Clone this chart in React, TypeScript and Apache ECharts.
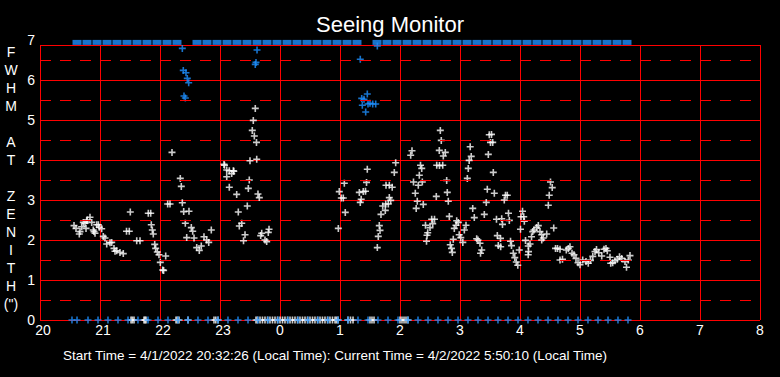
import React, { useEffect, useRef } from 'react';
import * as echarts from 'echarts';

const chartTitle = 'Seeing Monitor';
const yAxisName = 'F\nW\nH\nM\n\nA\nT\n\nZ\nE\nN\nI\nT\nH\n(")';
const footerText = 'Start Time = 4/1/2022 20:32:26 (Local Time): Current Time = 4/2/2022 5:50:10 (Local Time)';
const xTickLabels = ['20', '21', '22', '23', '0', '1', '2', '3', '4', '5', '6', '7', '8'];
const yTickLabels = ['0', '1', '2', '3', '4', '5', '6', '7'];
const dashedLevels = [0.5, 1.5, 2.5, 3.5, 4.5, 5.5, 6.5];

// White series: FWHM at zenith (hour of night, arcsec)
const whitePoints: [number, number][] = [
  [20.567, 2.36], [20.6, 2.29], [20.655, 2.15], [20.667, 2.21], [20.695, 2.33], [20.722, 2.44], [20.75, 2.42],
  [20.767, 2.29], [20.778, 2.48], [20.788, 2.5], [20.833, 2.57], [20.862, 2.44], [20.888, 2.25], [20.9, 2.21],
  [20.917, 2.17], [20.945, 2.38], [20.972, 2.38], [20.988, 2.32], [21.028, 2.28], [21.055, 2.09], [21.083, 2.05],
  [21.112, 1.9], [21.167, 1.93], [21.195, 1.94], [21.233, 1.79], [21.25, 1.72], [21.278, 1.73], [21.333, 1.69],
  [21.388, 1.66], [21.442, 2.22], [21.488, 2.22], [21.505, 2.7], [21.612, 1.98], [21.667, 1.98], [21.805, 2.67],
  [21.845, 2.67], [21.855, 2.38], [21.872, 2.25], [21.888, 2.15], [21.912, 1.89], [21.928, 1.79], [21.955, 1.7],
  [21.983, 1.63], [22.005, 1.44], [22.045, 1.25], [22.06, 1.24], [22.095, 1.6], [22.128, 2.9], [22.167, 2.9],
  [22.2, 4.19], [22.338, 3.54], [22.355, 3.34], [22.372, 2.93], [22.395, 2.71], [22.483, 2.72], [22.422, 2.42],
  [22.522, 2.31], [22.545, 2.22], [22.445, 2.06], [22.567, 2.05], [22.612, 1.81], [22.655, 1.74], [22.688, 1.85],
  [22.733, 2.08], [22.778, 2.0], [22.812, 1.94], [22.855, 2.25],
  [23.067, 3.89], [23.075, 3.87], [23.112, 3.75], [23.155, 3.73], [23.222, 3.73], [23.23, 3.72], [23.195, 3.66],
  [23.112, 3.58], [23.5, 3.98], [23.612, 4.02], [23.538, 4.74], [23.572, 4.6], [23.608, 4.44], [23.588, 5.29],
  [23.555, 4.99], [23.155, 3.32], [23.488, 3.5], [23.472, 3.29], [23.278, 3.14], [23.633, 3.15], [23.655, 3.06],
  [23.455, 2.85], [23.305, 2.7], [23.362, 2.42], [23.322, 2.35], [23.417, 2.13], [23.392, 1.98], [23.695, 2.17],
  [23.678, 2.11], [23.817, 2.27], [23.805, 2.19], [23.75, 2.0], [23.778, 1.96],
  [24.972, 2.29], [25.072, 3.42], [24.988, 3.21], [25.022, 3.05], [25.055, 3.05], [25.088, 2.69], [25.322, 3.19],
  [25.388, 3.21], [25.425, 3.22], [25.353, 3.02], [25.338, 2.94], [25.442, 3.44], [25.455, 3.77], [25.622, 1.81],
  [25.638, 2.09], [25.667, 2.24], [25.655, 2.36], [25.683, 2.64], [25.712, 2.85], [25.762, 2.9], [25.805, 2.9],
  [25.755, 2.74], [25.822, 3.06], [25.845, 2.99], [25.767, 3.37], [25.822, 3.37], [25.87, 3.32], [25.905, 3.69],
  [25.928, 3.93],
  [26.178, 4.12], [26.2, 4.23], [26.342, 3.87], [26.362, 3.79], [26.322, 3.62], [26.225, 3.45], [26.305, 3.37],
  [26.372, 3.45], [26.255, 3.17], [26.288, 2.97], [26.388, 2.89], [26.27, 2.79], [26.672, 4.74], [26.688, 4.49],
  [26.655, 4.24], [26.755, 4.19], [26.722, 4.1], [26.612, 3.87], [26.658, 3.86], [26.712, 3.87], [26.778, 3.49],
  [26.605, 3.09], [26.788, 3.19], [26.805, 2.97], [26.822, 2.59], [26.528, 2.52], [26.575, 2.52], [26.545, 2.41],
  [26.5, 2.31], [26.425, 2.37], [26.462, 2.18], [26.45, 2.12], [26.442, 1.97], [26.945, 2.48], [26.972, 2.44],
  [26.905, 2.29], [26.933, 2.37], [27.1, 2.37], [27.072, 2.25], [26.987, 2.13], [27.013, 2.06], [27.047, 1.94],
  [26.888, 2.02], [26.838, 1.88], [26.858, 1.79], [26.872, 1.69], [27.17, 4.33], [27.187, 4.09], [27.153, 3.99],
  [27.138, 3.79], [27.122, 3.54], [27.212, 2.79], [27.238, 2.56], [27.278, 2.03], [27.3, 2.0], [27.333, 1.92],
  [27.362, 1.75], [27.342, 1.67],
  [27.405, 2.64], [27.438, 2.94], [27.455, 3.27], [27.572, 3.17], [27.555, 3.69], [27.472, 4.14], [27.488, 4.63],
  [27.525, 4.64], [27.508, 4.44], [27.545, 4.44], [27.608, 2.52], [27.695, 2.53], [27.708, 2.39], [27.808, 2.67],
  [27.822, 2.49], [27.758, 3.12], [27.788, 3.12], [27.738, 3.0], [27.622, 2.11], [27.675, 2.04], [27.638, 1.86],
  [27.678, 1.83], [27.842, 1.97], [27.858, 1.86], [27.888, 1.67], [27.913, 1.56], [27.938, 1.45], [27.963, 1.37],
  [27.988, 1.75], [28.008, 2.27], [28.042, 2.72], [28.017, 2.58], [28.062, 2.58], [28.072, 2.47], [28.092, 1.99],
  [28.138, 1.85], [28.167, 1.9], [28.142, 1.71], [28.137, 1.63], [28.192, 2.08], [28.212, 2.21], [28.233, 2.25],
  [28.278, 2.31], [28.305, 2.36], [28.333, 2.21], [28.362, 2.13], [28.388, 2.05], [28.445, 2.15], [28.362, 2.0],
  [28.508, 3.45], [28.537, 3.31], [28.487, 3.12], [28.472, 2.87], [28.562, 2.3], [28.592, 1.79], [28.625, 1.79],
  [28.667, 1.77], [28.667, 1.5], [28.708, 1.52], [28.772, 1.75], [28.805, 1.79], [28.833, 1.83],
  [28.867, 1.67], [28.9, 1.63], [28.933, 1.54], [28.967, 1.43], [29.0, 1.38], [29.045, 1.5], [29.1, 1.46],
  [29.138, 1.42], [29.175, 1.49], [29.213, 1.59], [29.25, 1.71], [29.275, 1.76], [29.313, 1.68], [29.362, 1.6],
  [29.4, 1.77], [29.433, 1.79], [29.455, 1.73], [29.5, 1.57], [29.512, 1.42], [29.545, 1.43], [29.583, 1.48],
  [29.622, 1.52], [29.658, 1.58], [29.695, 1.54], [29.75, 1.46], [29.775, 1.32], [29.805, 1.5], [29.833, 1.61],
];

// White series readings that returned 0
const whiteZeroHours = [
  21.517, 21.54, 21.567, 21.733, 21.75, 21.767, 22.267, 22.29, 22.317, 22.467, 22.9, 22.93, 22.967,
  23.6, 23.625, 23.667, 23.708, 23.75, 23.792, 23.833, 23.875, 23.917, 23.958, 24.0, 24.042, 24.083, 24.125,
  24.167, 24.208, 24.25, 24.292, 24.333, 24.375, 24.417, 24.458, 24.5, 24.542, 24.583, 24.625, 24.667, 24.708,
  24.75, 24.792, 24.833, 24.875, 24.917, 24.94, 24.967, 25.133, 25.175, 25.217, 25.5, 25.533, 25.567,
  26.0, 26.033, 26.067, 26.1, 26.133,
];

// Blue series: in-range readings
const bluePoints: [number, number][] = [
  [22.372, 6.79], [22.388, 6.24], [22.433, 6.18], [22.455, 6.04], [22.478, 5.93], [22.4, 5.6], [22.422, 5.55],
  [23.617, 6.75], [23.6, 6.44], [23.588, 6.39], [25.338, 6.52], [25.622, 6.85], [25.455, 5.65], [25.362, 5.54],
  [25.4, 5.52], [25.372, 5.37], [25.5, 5.42], [25.545, 5.4], [25.595, 5.4], [25.467, 5.4], [25.428, 5.2],
];

// Blue series: readings above the plotted range (shown pinned at the top)
const blueTopHours = [
  20.617, 20.783, 20.95, 21.117, 21.283, 21.45, 21.617, 21.783, 21.95, 22.117, 22.283,
  22.617, 22.783, 22.95, 23.117, 23.283, 23.45, 23.617, 23.783, 23.95, 24.117, 24.283, 24.45, 24.617, 24.783,
  24.95, 25.117, 25.283,
  25.617, 25.783, 25.95, 26.117, 26.283, 26.45, 26.617, 26.783, 26.95, 27.117, 27.283, 27.45, 27.617, 27.783,
  27.95, 28.117, 28.283, 28.45, 28.617, 28.783, 28.95, 29.117, 29.283, 29.45, 29.617, 29.783,
];
const blueTopValue = 6.94;

// Blue series readings that returned 0
const blueZeroHours = [
  20.533, 20.617, 20.8, 20.967, 21.133, 21.3, 21.467, 21.633, 21.8, 21.967, 22.133, 22.3, 22.467, 22.633, 22.8,
  22.967, 23.133, 23.3, 23.467, 23.633, 23.8, 23.967, 24.133, 24.3, 24.467, 24.633, 24.8, 24.967, 25.133, 25.3,
  25.467, 25.633, 25.8, 25.967, 26.133, 26.3, 26.467, 26.633, 26.8, 26.967, 27.133, 27.3, 27.467, 27.633, 27.8,
  27.967, 28.133, 28.3, 28.467, 28.633, 28.8, 28.967, 29.133, 29.3, 29.467, 29.633, 29.8,
];

const FONT = '"Liberation Sans", Arial, sans-serif';
const PLUS = 'path://M2.7,0H4.3V2.7H7V4.3H4.3V7H2.7V4.3H0V2.7H2.7Z';
const RED = '#ff0000';
const BLUE = '#1e90ff';

export default function App() {
  const ref = useRef<HTMLDivElement>(null);

  useEffect(() => {
    document.body.style.margin = '0';
    document.body.style.background = '#000';
    const chart = echarts.init(ref.current as HTMLDivElement, null, { renderer: 'svg' });
    chart.setOption({
      animation: false,
      backgroundColor: '#000000',
      title: {
        text: chartTitle,
        left: 'center',
        top: 8,
        textStyle: { color: '#ffffff', fontSize: 22, fontWeight: 'normal', fontFamily: FONT, lineHeight: 22 },
      },
      grid: { left: 40, right: 20, top: 45, bottom: 57 },
      xAxis: {
        type: 'value',
        min: 20,
        max: 32,
        interval: 1,
        axisLine: { show: false },
        axisTick: { show: false },
        splitLine: { show: true, lineStyle: { color: RED, width: 1 } },
        axisLabel: {
          color: '#ffffff',
          fontSize: 14,
          fontFamily: FONT,
          margin: 3,
          formatter: (v: number) => {
            const t = xTickLabels[Math.round(v - 20)] ?? '';
            return t.length === 2 ? `{w|${t}}` : t;
          },
          rich: { w: { padding: [0, 0, 0, 6], color: '#ffffff', fontSize: 14, fontFamily: FONT } },
        },
      },
      yAxis: {
        type: 'value',
        min: 0,
        max: 6.875,
        interval: 1,
        axisLine: { show: false },
        axisTick: { show: false },
        splitLine: { show: true, lineStyle: { color: RED, width: 1 } },
        axisLabel: {
          color: '#ffffff',
          fontSize: 14,
          fontFamily: FONT,
          margin: 5,
          formatter: (v: number) => (Number.isInteger(v) ? yTickLabels[v] : ''),
        },
      },
      graphic: [
        {
          type: 'text',
          x: 35,
          y: 40,
          style: { text: yTickLabels[7], fill: '#ffffff', font: `14px ${FONT}`, align: 'right', verticalAlign: 'middle' },
        },
        {
          type: 'text',
          x: 11,
          y: 43,
          style: {
            text: yAxisName,
            fill: '#ffffff',
            font: `14px ${FONT}`,
            lineHeight: 18,
            align: 'center',
            verticalAlign: 'top',
          },
        },
        {
          type: 'text',
          x: 63,
          y: 355,
          style: { text: footerText, fill: '#ffffff', font: `13.5px ${FONT}`, align: 'left', verticalAlign: 'middle' },
        },
      ],
      series: [
        {
          type: 'scatter',
          z: 1,
          data: [[20, 0]],
          symbolSize: 0,
          silent: true,
          markLine: {
            silent: true,
            symbol: ['none', 'none'],
            label: { show: false },
            lineStyle: { color: RED, width: 1, type: [11, 9] },
            emphasis: { disabled: true },
            data: dashedLevels.map((v) => ({ yAxis: v })),
          },
        },
        {
          type: 'scatter',
          z: 3,
          clip: false,
          symbol: 'rect',
          symbolSize: [9, 5],
          itemStyle: { color: BLUE },
          data: blueTopHours.map((h) => [h, blueTopValue]),
        },
        {
          type: 'scatter',
          z: 3,
          clip: false,
          symbol: PLUS,
          symbolSize: 7,
          itemStyle: { color: '#ffffff' },
          data: whiteZeroHours.map((h) => [h, 0]),
        },
        {
          type: 'scatter',
          z: 4,
          clip: false,
          symbol: PLUS,
          symbolSize: 7,
          itemStyle: { color: BLUE },
          data: blueZeroHours.map((h) => [h, 0]),
        },
        {
          type: 'scatter',
          z: 4,
          clip: false,
          symbol: PLUS,
          symbolSize: 7,
          itemStyle: { color: '#ffffff' },
          data: whitePoints,
        },
        {
          type: 'scatter',
          z: 4,
          clip: false,
          symbol: PLUS,
          symbolSize: 7,
          itemStyle: { color: BLUE },
          data: bluePoints,
        },
      ],
    });
    return () => chart.dispose();
  }, []);

  return <div ref={ref} style={{ position: 'absolute', left: 0, top: 0, width: 780, height: 377 }} />;
}
